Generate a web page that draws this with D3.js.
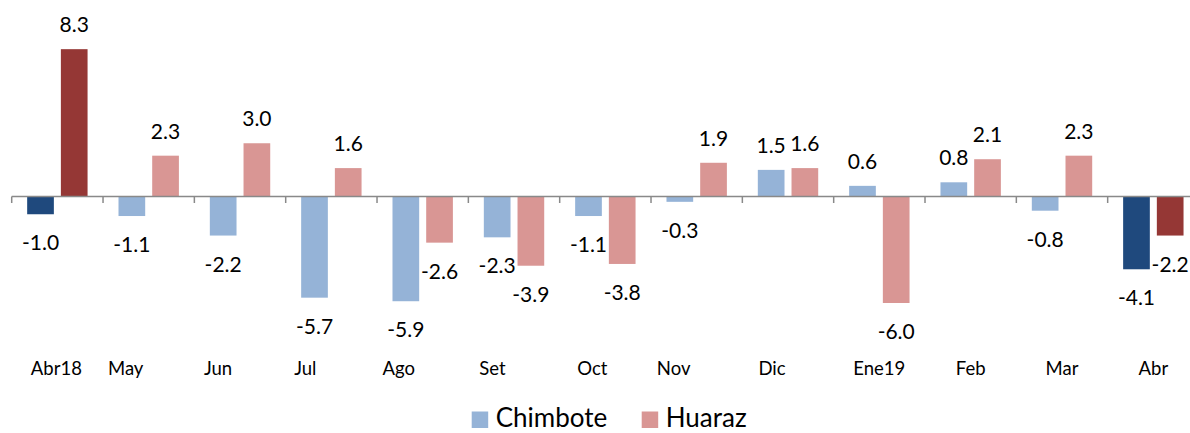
<!DOCTYPE html>
<html>
<head>
<meta charset="utf-8">
<script src="https://cdn.jsdelivr.net/npm/d3@7"></script>
<style>
  html, body { margin: 0; padding: 0; background: #fff; }
  svg { display: block; font-family: Lato, "Open Sans", sans-serif; }
</style>
</head>
<body>
<svg id="chart" width="1190" height="433"></svg>
<script>
// ---- data ----
const categories = ["Abr18", "May", "Jun", "Jul", "Ago", "Set", "Oct", "Nov", "Dic", "Ene19", "Feb", "Mar", "Abr"];
const seriesNames = ["Chimbote", "Huaraz"];
const chimbote = [-1.0, -1.1, -2.2, -5.7, -5.9, -2.3, -1.1, -0.3, 1.5, 0.6, 0.8, -0.8, -4.1];
const huaraz   = [ 8.3,  2.3,  3.0,  1.6, -2.6, -3.9, -3.8,  1.9, 1.6, -6.0, 2.1, 2.3, -2.2];
const highlighted = ["Abr18", "Abr"];

// ---- layout / style ----
const catLabelShift = [-1, -23, -22, -26, -24, -21.5, -13, -23, -16, 0, 0, 0, 0];
const lightColors = { Chimbote: "#95B3D7", Huaraz: "#D99694" };
const darkColors  = { Chimbote: "#1F497D", Huaraz: "#953735" };

const fmt = d3.formatLocale({ decimal: ".", thousands: ",", grouping: [3], currency: ["", ""], minus: "-" }).format(".1f");

const svg = d3.select("#chart");
const x0 = d3.scaleBand().domain(categories).range([11.7, 1199]).paddingInner(0).paddingOuter(0);
const x1 = d3.scaleBand().domain(seriesNames).range([0, x0.bandwidth()]).paddingInner(0.208).paddingOuter(0.459);
const y = d3.scaleLinear().domain([-8, 10]).range([338.5, 19]);

const rows = categories.map((c, i) => ({ cat: c, i, values: [
  { s: "Chimbote", v: chimbote[i] },
  { s: "Huaraz", v: huaraz[i] }
]}));

const g = svg.selectAll("g.cat").data(rows).join("g")
  .attr("class", "cat")
  .attr("transform", d => `translate(${x0(d.cat)},0)`);

g.selectAll("rect").data(d => d.values.map(v => ({ ...v, cat: d.cat }))).join("rect")
  .attr("x", d => x1(d.s))
  .attr("width", x1.bandwidth())
  .attr("y", d => Math.min(y(d.v), y(0)))
  .attr("height", d => Math.abs(y(d.v) - y(0)))
  .attr("fill", d => highlighted.includes(d.cat) ? darkColors[d.s] : lightColors[d.s]);

// value labels
g.selectAll("text.val").data(d => d.values).join("text")
  .attr("class", "val")
  .attr("x", d => x1(d.s) + x1.bandwidth() / 2)
  .attr("y", d => d.v >= 0 ? y(d.v) - 17 : y(d.v) + 36)
  .attr("text-anchor", "middle")
  .attr("font-size", 21)
  .attr("fill", "#000")
  .text(d => fmt(d.v));

// axis at zero
const ax = svg.append("g").attr("transform", `translate(0,${y(0)})`);
ax.append("line").attr("x1", 11.7).attr("x2", 1199).attr("y1", 0).attr("y2", 0)
  .attr("stroke", "#898989").attr("stroke-width", 1.5);
ax.selectAll("line.tick").data(categories).join("line")
  .attr("class", "tick")
  .attr("x1", d => x0(d)).attr("x2", d => x0(d))
  .attr("y1", 0).attr("y2", 6.5)
  .attr("stroke", "#898989").attr("stroke-width", 1.5);

// category labels
svg.append("g").selectAll("text").data(categories).join("text")
  .attr("x", (d, i) => x0(d) + x0.bandwidth() / 2 + catLabelShift[i])
  .attr("y", 375)
  .attr("text-anchor", "middle")
  .attr("font-size", 18.5)
  .attr("fill", "#000")
  .text(d => d);

// legend
const legendX = [471.7, 641.7];
const lg = svg.append("g").selectAll("g").data(seriesNames).join("g")
  .attr("transform", (d, i) => `translate(${legendX[i]},0)`);
lg.append("rect").attr("x", 0).attr("y", 411.5).attr("width", 16.5).attr("height", 16.5)
  .attr("fill", d => lightColors[d]);
lg.append("text").attr("x", 24).attr("y", 427).attr("font-size", 26).attr("fill", "#000").text(d => d);
</script>
</body>
</html>
